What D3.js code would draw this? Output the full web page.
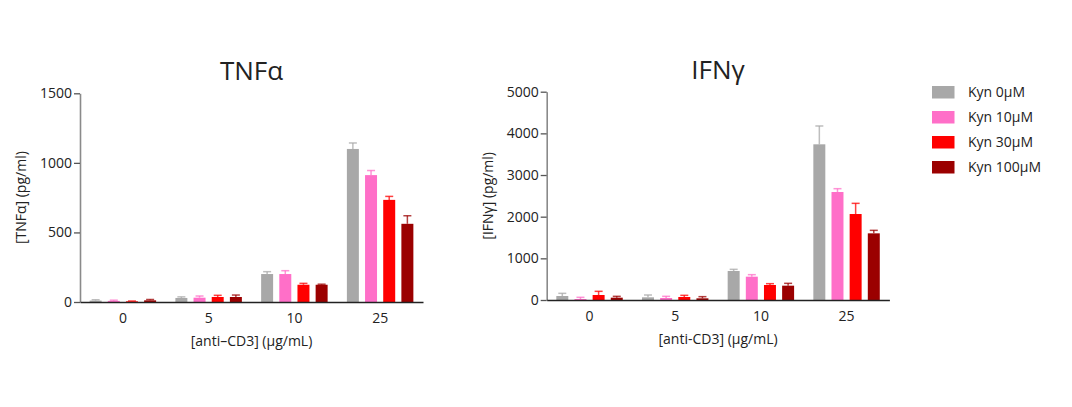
<!DOCTYPE html>
<html>
<head>
<meta charset="utf-8">
<script src="https://cdn.jsdelivr.net/npm/d3@7"></script>
<style>
  body { margin: 0; background: #fff; }
  svg text { font-family: "Open Sans", "Noto Sans", sans-serif; fill: #222; }
</style>
</head>
<body>
<div id="chart"></div>
<script>
const groups = ["0", "5", "10", "25"];
const series = ["Kyn 0µM", "Kyn 10µM", "Kyn 30µM", "Kyn 100µM"];
const colors = ["#a8a8a8", "#ff6fc8", "#ff0000", "#9b0000"];

// means per series, one value per anti-CD3 group
const tnfMean = [
  [10, 29, 201, 1100],
  [8, 31, 201, 912],
  [5, 36, 124, 734],
  [12, 36, 124, 562]
];
const tnfErr = [
  [6, 8, 17, 43],
  [5, 12, 24, 33],
  [2, 12, 10, 25],
  [6, 14, 4, 58]
];
const tnfTicks = [0, 500, 1000, 1500];

const ifnMean = [
  [96, 64, 696, 3737],
  [24, 48, 560, 2592],
  [120, 72, 360, 2064],
  [56, 40, 344, 1600]
];
const ifnErr = [
  [64, 56, 40, 440],
  [40, 40, 48, 80],
  [88, 40, 32, 256],
  [32, 40, 56, 72]
];
const ifnTicks = [0, 1000, 2000, 3000, 4000, 5000];

const svg = d3.select("#chart")
  .append("svg")
  .attr("width", 1072)
  .attr("height", 407);

function drawPanel(opts) {
  const { left, right, top, bottom, yMax, ticks, means, errs, title, yLabel, xLabel, yLabelX } = opts;

  const x0 = d3.scaleBand().domain(groups).range([left, right]).padding(0);
  const x1 = d3.scaleBand().domain(series).range([0, x0.bandwidth()])
    .paddingInner(0.34).paddingOuter(0.53);
  const y = d3.scaleLinear().domain([0, yMax]).range([bottom, top]);

  const g = svg.append("g");

  // bars + error bars
  series.forEach((s, si) => {
    groups.forEach((grp, gi) => {
      const v = means[si][gi];
      const e = errs[si][gi];
      const bx = x0(grp) + x1(s);
      const bw = x1.bandwidth();
      g.append("rect")
        .attr("x", bx)
        .attr("y", y(v))
        .attr("width", bw)
        .attr("height", y(0) - y(v))
        .attr("fill", colors[si]);
      const cx = bx + bw / 2;
      const eg = g.append("g")
        .attr("stroke", colors[si])
        .attr("stroke-opacity", 0.75)
        .attr("stroke-width", 1.5);
      eg.append("line")
        .attr("x1", cx).attr("x2", cx)
        .attr("y1", y(v)).attr("y2", y(v + e));
      eg.append("line")
        .attr("x1", cx - 4).attr("x2", cx + 4)
        .attr("y1", y(v + e)).attr("y2", y(v + e));
    });
  });

  // y axis
  const ya = g.append("g")
    .attr("transform", `translate(${left},0)`)
    .call(d3.axisLeft(y).tickValues(ticks).tickFormat(d3.format("d"))
      .tickSize(6).tickPadding(2).tickSizeOuter(0));
  ya.select(".domain").attr("stroke", "#8a8a8a").attr("stroke-width", 1.6);
  ya.selectAll(".tick line").attr("stroke", "#555").attr("stroke-width", 1.3);
  ya.selectAll(".tick text").style("font-size", "14px").attr("fill", "#222");

  // x axis
  const xa = g.append("g")
    .attr("transform", `translate(0,${bottom})`)
    .call(d3.axisBottom(x0).tickSize(0).tickPadding(11).tickSizeOuter(0));
  xa.select(".domain").attr("stroke", "#222").attr("stroke-width", 1.3);
  xa.selectAll(".tick text").style("font-size", "14px").attr("fill", "#222");

  // title
  g.append("text")
    .attr("x", (left + right) / 2)
    .attr("y", top - 13)
    .attr("text-anchor", "middle")
    .style("font-size", "26px")
    .text(title);

  // x label
  g.append("text")
    .attr("x", (left + right) / 2)
    .attr("y", bottom + 44)
    .attr("text-anchor", "middle")
    .style("font-size", "14px")
    .text(xLabel);

  // y label
  g.append("text")
    .attr("transform", `translate(${yLabelX},${(top + bottom) / 2}) rotate(-90)`)
    .attr("text-anchor", "middle")
    .style("font-size", "14px")
    .text(yLabel);
}

drawPanel({
  left: 80, right: 423, top: 93.3, bottom: 302,
  yMax: 1500, ticks: tnfTicks, means: tnfMean, errs: tnfErr,
  title: "TNFα", yLabel: "[TNFα] (pg/ml)", xLabel: "[anti–CD3] (µg/mL)", yLabelX: 26
});

drawPanel({
  left: 546.7, right: 889.4, top: 91.7, bottom: 300,
  yMax: 5000, ticks: ifnTicks, means: ifnMean, errs: ifnErr,
  title: "IFNγ", yLabel: "[IFNγ] (pg/ml)", xLabel: "[anti-CD3] (µg/mL)", yLabelX: 493
});

// legend
const legend = svg.append("g").attr("transform", "translate(932,86)");
series.forEach((s, i) => {
  const row = legend.append("g").attr("transform", `translate(0,${i * 25})`);
  row.append("rect")
    .attr("width", 22.5)
    .attr("height", 12.5)
    .attr("fill", colors[i]);
  row.append("text")
    .attr("x", 36)
    .attr("y", 6.5)
    .attr("dy", "0.35em")
    .style("font-size", "14px")
    .text(s);
});
</script>
</body>
</html>
